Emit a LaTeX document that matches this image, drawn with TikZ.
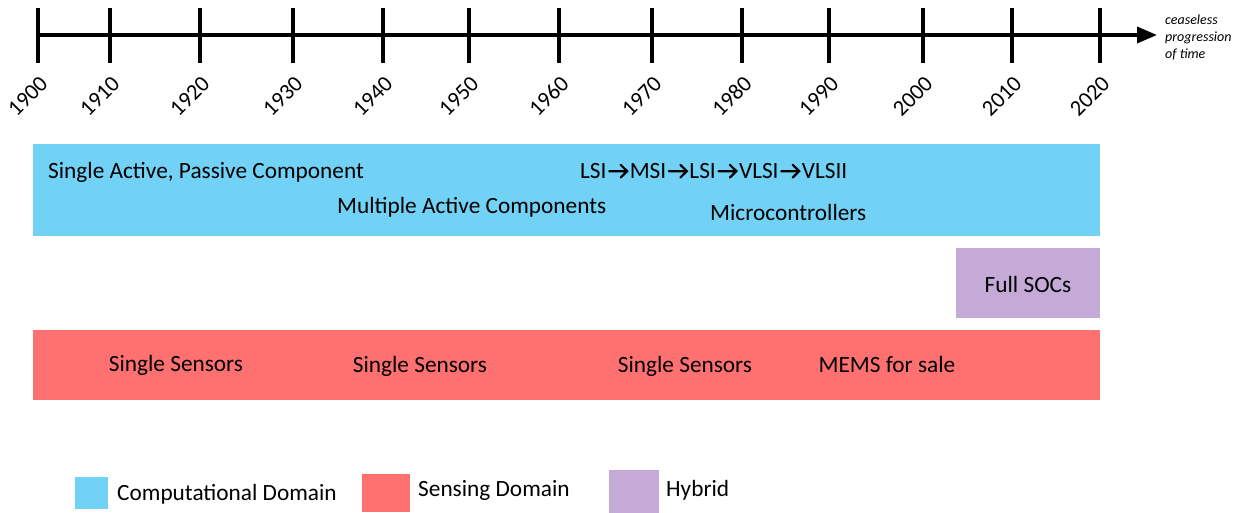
\documentclass[tikz,border=0pt]{standalone}
\usepackage{fontspec}
\setmainfont{Carlito}
\usetikzlibrary{arrows.meta}
\definecolor{comp}{RGB}{113,210,246}
\definecolor{sens}{RGB}{255,113,113}
\definecolor{hyb}{RGB}{197,170,216}
\tikzset{
  yearlbl/.style={rotate=45,anchor=east,inner sep=0pt,font=\fontsize{22.5}{26}\selectfont},
  tick/.style={line width=3.5pt},
  txt/.style={inner sep=0pt,font=\fontsize{23.3}{27}\selectfont}
}
\newcommand{\tarr}{\kern1.5pt\tikz[baseline=0pt,x=1pt,y=1pt]\draw[line width=2.2pt,line cap=round,line join=miter] (0,7.3) -- (18,7.3) (11.5,1) -- (18,7.3) -- (11.5,13.6);\kern1.5pt}
\begin{document}
\begin{tikzpicture}[x=1pt,y=-1pt]
\useasboundingbox (0,0) rectangle (1243,513);
% timeline
\coordinate (tstart) at (38,35);
\coordinate (tend) at (1157,35);
\draw[line width=3.5pt,-{Triangle[length=20pt,width=16pt]}] (tstart) -- (tend);
\foreach \x/\y in {38/1900,110/1910,200/1920,293/1930,383/1940,469/1950,559/1960,652/1970,742/1980,829/1990,923/2000,1012/2010,1100/2020}{
  \coordinate (t\y a) at (\x,8);
  \coordinate (t\y b) at (\x,63);
  \draw[tick] (t\y a) -- (t\y b);
  \node[yearlbl] (y\y) at (\x+6,80) {\y};
}
\node[align=left,anchor=west,inner sep=0pt,font=\fontsize{14}{17}\selectfont\itshape] (ceaseless) at (1165,37) {ceaseless\\progression\\of time};
% bands
\fill[comp] (33,144) rectangle (1100,236);
\fill[hyb] (956,248) rectangle (1100,318);
\fill[sens] (33,330) rectangle (1100,400);
\node[txt,anchor=west] (sapc) at (48,172) {Single Active, Passive Component};
\node[txt,anchor=west] (lsi) at (580,171) {LSI\tarr MSI\tarr LSI\tarr VLSI\tarr VLSII};
\node[txt,anchor=west] (mac) at (337,207) {Multiple Active Components};
\node[txt,anchor=west] (mc) at (710,212) {Microcontrollers};
\node[txt] (soc) at (1028,284) {Full SOCs};
\node[txt] (ss1) at (176,365) {Single Sensors};
\node[txt] (ss2) at (420,366) {Single Sensors};
\node[txt] (ss3) at (685,366) {Single Sensors};
\node[txt] (mems) at (887,364) {MEMS for sale};
% legend
\fill[comp] (75,477) rectangle (108,509);
\node[txt,anchor=west] (lc) at (117,494) {Computational Domain};
\fill[sens] (362,474) rectangle (410,512);
\node[txt,anchor=west] (ls) at (418,490) {Sensing Domain};
\fill[hyb] (609,470) rectangle (659,513);
\node[txt,anchor=west] (lh) at (666,490) {Hybrid};
\end{tikzpicture}
\end{document}
